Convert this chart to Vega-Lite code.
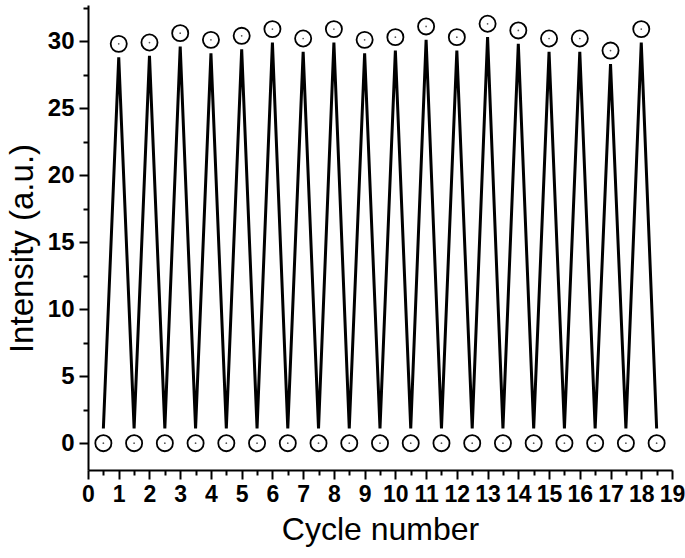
{
  "$schema": "https://vega.github.io/schema/vega-lite/v6.json",
  "width": 584,
  "height": 465,
  "autosize": "none",
  "padding": {"left": 88, "top": 5, "right": 13, "bottom": 88},
  "background": "white",
  "config": {
    "view": {"stroke": null},
    "axis": {
      "grid": false,
      "domainColor": "black",
      "domainWidth": 2,
      "tickColor": "black",
      "tickWidth": 2,
      "labelFont": "Liberation Sans",
      "labelFontWeight": "bold",
      "labelColor": "black",
      "titleFont": "Liberation Sans",
      "titleFontWeight": "normal",
      "titleColor": "black"
    }
  },
  "data": {
    "values": [
      {"cycle": 0.5, "intensity": 0, "line": 1.1},
      {"cycle": 1, "intensity": 29.8, "line": 28.8},
      {"cycle": 1.5, "intensity": 0, "line": 1.1},
      {"cycle": 2, "intensity": 29.9, "line": 28.9},
      {"cycle": 2.5, "intensity": 0, "line": 1.1},
      {"cycle": 3, "intensity": 30.6, "line": 29.6},
      {"cycle": 3.5, "intensity": 0, "line": 1.1},
      {"cycle": 4, "intensity": 30.1, "line": 29.1},
      {"cycle": 4.5, "intensity": 0, "line": 1.1},
      {"cycle": 5, "intensity": 30.4, "line": 29.4},
      {"cycle": 5.5, "intensity": 0, "line": 1.1},
      {"cycle": 6, "intensity": 30.9, "line": 29.9},
      {"cycle": 6.5, "intensity": 0, "line": 1.1},
      {"cycle": 7, "intensity": 30.2, "line": 29.2},
      {"cycle": 7.5, "intensity": 0, "line": 1.1},
      {"cycle": 8, "intensity": 30.9, "line": 29.9},
      {"cycle": 8.5, "intensity": 0, "line": 1.1},
      {"cycle": 9, "intensity": 30.1, "line": 29.1},
      {"cycle": 9.5, "intensity": 0, "line": 1.1},
      {"cycle": 10, "intensity": 30.3, "line": 29.3},
      {"cycle": 10.5, "intensity": 0, "line": 1.1},
      {"cycle": 11, "intensity": 31.1, "line": 30.1},
      {"cycle": 11.5, "intensity": 0, "line": 1.1},
      {"cycle": 12, "intensity": 30.3, "line": 29.3},
      {"cycle": 12.5, "intensity": 0, "line": 1.1},
      {"cycle": 13, "intensity": 31.3, "line": 30.3},
      {"cycle": 13.5, "intensity": 0, "line": 1.1},
      {"cycle": 14, "intensity": 30.8, "line": 29.8},
      {"cycle": 14.5, "intensity": 0, "line": 1.1},
      {"cycle": 15, "intensity": 30.2, "line": 29.2},
      {"cycle": 15.5, "intensity": 0, "line": 1.1},
      {"cycle": 16, "intensity": 30.2, "line": 29.2},
      {"cycle": 16.5, "intensity": 0, "line": 1.1},
      {"cycle": 17, "intensity": 29.3, "line": 28.3},
      {"cycle": 17.5, "intensity": 0, "line": 1.1},
      {"cycle": 18, "intensity": 30.9, "line": 29.9},
      {"cycle": 18.5, "intensity": 0, "line": 1.1}
    ]
  },
  "resolve": {"axis": {"x": "independent", "y": "independent"}},
  "layer": [
    {
      "mark": {"type": "line", "color": "black", "strokeWidth": 3, "strokeJoin": "bevel"},
      "encoding": {
        "x": {
          "field": "cycle", "type": "quantitative",
          "scale": {"domain": [0, 19], "nice": false, "zero": false},
          "axis": {"title": "Cycle number", "titleFontSize": 32, "labelFontSize": 23, "orient": "bottom", "values": [0,1,2,3,4,5,6,7,8,9,10,11,12,13,14,15,16,17,18,19], "tickSize": 9, "labelPadding": 4, "titlePadding": 8, "labelFlush": false, "labelOverlap": false}
        },
        "y": {
          "field": "line", "type": "quantitative",
          "scale": {"domain": [-2, 32.7], "nice": false, "zero": false},
          "axis": {"title": "Intensity (a.u.)", "titleFontSize": 33, "labelFontSize": 24, "titleY": 243, "orient": "left", "values": [0, 5, 10, 15, 20, 25, 30], "tickSize": 9, "labelPadding": 5, "titlePadding": 8, "labelFlush": false}
        }
      }
    },
    {
      "mark": {"type": "point", "shape": "circle", "filled": false, "color": "black", "strokeWidth": 1.8, "size": 260, "opacity": 1},
      "encoding": {
        "x": {
          "field": "cycle", "type": "quantitative",
          "axis": {"title": null, "orient": "bottom", "values": [0.5,1.5,2.5,3.5,4.5,5.5,6.5,7.5,8.5,9.5,10.5,11.5,12.5,13.5,14.5,15.5,16.5,17.5,18.5], "tickSize": 5, "labels": false, "domain": false}
        },
        "y": {
          "field": "intensity", "type": "quantitative",
          "axis": {"title": null, "orient": "left", "values": [2.5, 7.5, 12.5, 17.5, 22.5, 27.5, 32.5], "tickSize": 5, "labels": false, "domain": false}
        }
      }
    },
    {
      "mark": {"type": "point", "shape": "circle", "filled": true, "color": "#555555", "size": 3, "opacity": 1},
      "encoding": {
        "x": {"field": "cycle", "type": "quantitative", "axis": null},
        "y": {"field": "intensity", "type": "quantitative", "axis": null}
      }
    }
  ]
}
